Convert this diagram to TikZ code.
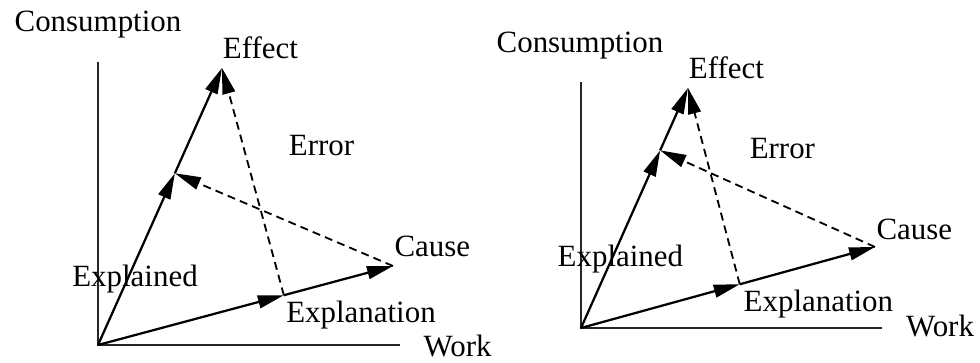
\documentclass[tikz,border=0pt]{standalone}
\usepackage{fontspec}
\setmainfont{Liberation Serif}
\usetikzlibrary{arrows.meta,calc}

\begin{document}
\begin{tikzpicture}[font = \fontsize{22}{26}\selectfont,
  axis/.style = {line width = 1.7pt, black!85},
  vec/.style = {line width = 1.6pt, -{Triangle[length = 0.65cm, width = 0.32cm]}},
  err/.style = {vec, line width = 1.3pt, dash pattern = on 0.2cm off 0.13cm}]
\useasboundingbox (0, 0) rectangle (24.5, 9.075);
%\draw [help lines] (0, 0) grid (24, 9);
% left picture
\coordinate (O1) at (2.45, 0.45);
\coordinate (Y1) at (2.45, 7.525);
\coordinate (W1) at (10.0, 0.45);
\coordinate (E1) at (5.55, 7.375);
\coordinate (C1) at (9.825, 2.425);
\coordinate (Xd1) at ($(O1)!0.62!(E1)$);
\coordinate (Xn1) at ($(O1)!0.63!(C1)$);
\draw [axis] (Y1) -- (O1) -- (W1);
\draw [vec] (O1) -- (Xd1);
\draw [vec] (Xd1) -- (E1);
\draw [vec] (O1) -- (Xn1);
\draw [vec] (Xn1) -- (C1);
\draw [err] (C1) -- (Xd1);
\draw [err] (Xn1) -- (E1);
\node (cons1) [anchor = base] at (2.45, 8.275) {Consumption};
\node (eff1) [anchor = base] at (6.51, 7.6) {Effect};
\node (err1) [anchor = base] at (8.04, 5.175) {Error};
\node (cau1) [anchor = base] at (10.81, 2.65) {Cause};
\node (expd1) [anchor = base] at (3.375, 1.9) {Explained};
\node (expn1) [anchor = base] at (9.025, 1.0) {Explanation};
\node (work1) [anchor = base] at (11.44, 0.15) {Work};
% right picture
\coordinate (O2) at (14.525, 0.875);
\coordinate (Y2) at (14.525, 7.025);
\coordinate (W2) at (22.05, 0.875);
\coordinate (E2) at (17.2, 6.875);
\coordinate (C2) at (21.875, 2.9);
\coordinate (Xd2) at ($(O2)!0.74!(E2)$);
\coordinate (Xn2) at ($(O2)!0.54!(C2)$);
\draw [axis] (Y2) -- (O2) -- (W2);
\draw [vec] (O2) -- (Xd2);
\draw [vec] (Xd2) -- (E2);
\draw [vec] (O2) -- (Xn2);
\draw [vec] (Xn2) -- (C2);
\draw [err] (C2) -- (Xd2);
\draw [err] (Xn2) -- (E2);
\node (cons2) [anchor = base] at (14.5, 7.75) {Consumption};
\node (eff2) [anchor = base] at (18.16, 7.1) {Effect};
\node (err2) [anchor = base] at (19.56, 5.1) {Error};
\node (cau2) [anchor = base] at (22.86, 3.075) {Cause};
\node (expd2) [anchor = base] at (15.51, 2.4) {Explained};
\node (expn2) [anchor = base] at (20.46, 1.275) {Explanation};
\node (work2) [anchor = base] at (23.5, 0.65) {Work};
\end{tikzpicture}
\end{document}
